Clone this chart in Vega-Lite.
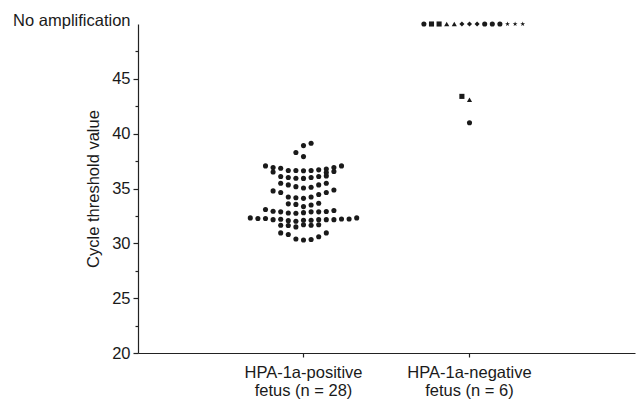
{
  "$schema": "https://vega.github.io/schema/vega-lite/v6.json",
  "width": 497,
  "height": 329,
  "autosize": {"type": "none"},
  "padding": {"left": 138, "top": 24, "right": 1, "bottom": 47},
  "background": "white",
  "config": {
    "view": {"stroke": null},
    "font": "Liberation Sans",
    "axis": {"grid": false, "domainColor": "#222", "tickColor": "#222", "labelColor": "#1a1a1a", "titleColor": "#1a1a1a", "labelFont": "Liberation Sans", "titleFont": "Liberation Sans", "labelFontSize": 16.5, "titleFontSize": 16.5, "titleFontWeight": "normal", "domainWidth": 1.2, "tickWidth": 1.2}
  },
  "data": {
    "values": [
      {"group": "HPA-1a-positive fetus (n = 28)", "fetus": "P", "slot": 1, "ct": 39.13},
      {"group": "HPA-1a-positive fetus (n = 28)", "fetus": "P", "slot": 0, "ct": 38.91},
      {"group": "HPA-1a-positive fetus (n = 28)", "fetus": "P", "slot": -1, "ct": 38.28},
      {"group": "HPA-1a-positive fetus (n = 28)", "fetus": "P", "slot": 0, "ct": 37.91},
      {"group": "HPA-1a-positive fetus (n = 28)", "fetus": "P", "slot": -5, "ct": 37.06},
      {"group": "HPA-1a-positive fetus (n = 28)", "fetus": "P", "slot": -4, "ct": 36.91},
      {"group": "HPA-1a-positive fetus (n = 28)", "fetus": "P", "slot": -3, "ct": 36.85},
      {"group": "HPA-1a-positive fetus (n = 28)", "fetus": "P", "slot": -2, "ct": 36.64},
      {"group": "HPA-1a-positive fetus (n = 28)", "fetus": "P", "slot": -1, "ct": 36.64},
      {"group": "HPA-1a-positive fetus (n = 28)", "fetus": "P", "slot": 0, "ct": 36.62},
      {"group": "HPA-1a-positive fetus (n = 28)", "fetus": "P", "slot": 1, "ct": 36.64},
      {"group": "HPA-1a-positive fetus (n = 28)", "fetus": "P", "slot": 2, "ct": 36.7},
      {"group": "HPA-1a-positive fetus (n = 28)", "fetus": "P", "slot": 3, "ct": 36.78},
      {"group": "HPA-1a-positive fetus (n = 28)", "fetus": "P", "slot": 4, "ct": 36.92},
      {"group": "HPA-1a-positive fetus (n = 28)", "fetus": "P", "slot": 5, "ct": 37.06},
      {"group": "HPA-1a-positive fetus (n = 28)", "fetus": "P", "slot": -4, "ct": 36.5},
      {"group": "HPA-1a-positive fetus (n = 28)", "fetus": "P", "slot": 3, "ct": 36.45},
      {"group": "HPA-1a-positive fetus (n = 28)", "fetus": "P", "slot": 4, "ct": 36.55},
      {"group": "HPA-1a-positive fetus (n = 28)", "fetus": "P", "slot": -3, "ct": 36.09},
      {"group": "HPA-1a-positive fetus (n = 28)", "fetus": "P", "slot": -2, "ct": 36.0},
      {"group": "HPA-1a-positive fetus (n = 28)", "fetus": "P", "slot": -1, "ct": 35.94},
      {"group": "HPA-1a-positive fetus (n = 28)", "fetus": "P", "slot": 0, "ct": 35.92},
      {"group": "HPA-1a-positive fetus (n = 28)", "fetus": "P", "slot": 1, "ct": 36.0},
      {"group": "HPA-1a-positive fetus (n = 28)", "fetus": "P", "slot": 2, "ct": 36.09},
      {"group": "HPA-1a-positive fetus (n = 28)", "fetus": "P", "slot": 3, "ct": 36.15},
      {"group": "HPA-1a-positive fetus (n = 28)", "fetus": "P", "slot": -3, "ct": 35.48},
      {"group": "HPA-1a-positive fetus (n = 28)", "fetus": "P", "slot": -2, "ct": 35.33},
      {"group": "HPA-1a-positive fetus (n = 28)", "fetus": "P", "slot": -1, "ct": 35.17},
      {"group": "HPA-1a-positive fetus (n = 28)", "fetus": "P", "slot": 0, "ct": 35.05},
      {"group": "HPA-1a-positive fetus (n = 28)", "fetus": "P", "slot": 1, "ct": 35.11},
      {"group": "HPA-1a-positive fetus (n = 28)", "fetus": "P", "slot": 2, "ct": 35.33},
      {"group": "HPA-1a-positive fetus (n = 28)", "fetus": "P", "slot": 3, "ct": 35.48},
      {"group": "HPA-1a-positive fetus (n = 28)", "fetus": "P", "slot": -4, "ct": 34.78},
      {"group": "HPA-1a-positive fetus (n = 28)", "fetus": "P", "slot": -3, "ct": 34.63},
      {"group": "HPA-1a-positive fetus (n = 28)", "fetus": "P", "slot": 2, "ct": 34.45},
      {"group": "HPA-1a-positive fetus (n = 28)", "fetus": "P", "slot": 3, "ct": 34.63},
      {"group": "HPA-1a-positive fetus (n = 28)", "fetus": "P", "slot": 4, "ct": 34.87},
      {"group": "HPA-1a-positive fetus (n = 28)", "fetus": "P", "slot": -2, "ct": 34.22},
      {"group": "HPA-1a-positive fetus (n = 28)", "fetus": "P", "slot": -1, "ct": 34.15},
      {"group": "HPA-1a-positive fetus (n = 28)", "fetus": "P", "slot": 0, "ct": 34.1},
      {"group": "HPA-1a-positive fetus (n = 28)", "fetus": "P", "slot": 1, "ct": 34.22},
      {"group": "HPA-1a-positive fetus (n = 28)", "fetus": "P", "slot": -2, "ct": 33.6},
      {"group": "HPA-1a-positive fetus (n = 28)", "fetus": "P", "slot": -1, "ct": 33.55},
      {"group": "HPA-1a-positive fetus (n = 28)", "fetus": "P", "slot": 0, "ct": 33.35},
      {"group": "HPA-1a-positive fetus (n = 28)", "fetus": "P", "slot": 1, "ct": 33.5},
      {"group": "HPA-1a-positive fetus (n = 28)", "fetus": "P", "slot": 2, "ct": 33.65},
      {"group": "HPA-1a-positive fetus (n = 28)", "fetus": "P", "slot": -5, "ct": 33.08},
      {"group": "HPA-1a-positive fetus (n = 28)", "fetus": "P", "slot": -4, "ct": 32.93},
      {"group": "HPA-1a-positive fetus (n = 28)", "fetus": "P", "slot": -3, "ct": 32.87},
      {"group": "HPA-1a-positive fetus (n = 28)", "fetus": "P", "slot": -2, "ct": 32.77},
      {"group": "HPA-1a-positive fetus (n = 28)", "fetus": "P", "slot": -1, "ct": 32.75},
      {"group": "HPA-1a-positive fetus (n = 28)", "fetus": "P", "slot": 0, "ct": 32.8},
      {"group": "HPA-1a-positive fetus (n = 28)", "fetus": "P", "slot": 1, "ct": 32.87},
      {"group": "HPA-1a-positive fetus (n = 28)", "fetus": "P", "slot": 2, "ct": 32.87},
      {"group": "HPA-1a-positive fetus (n = 28)", "fetus": "P", "slot": 3, "ct": 32.9},
      {"group": "HPA-1a-positive fetus (n = 28)", "fetus": "P", "slot": 4, "ct": 33.0},
      {"group": "HPA-1a-positive fetus (n = 28)", "fetus": "P", "slot": -7, "ct": 32.32},
      {"group": "HPA-1a-positive fetus (n = 28)", "fetus": "P", "slot": -6, "ct": 32.26},
      {"group": "HPA-1a-positive fetus (n = 28)", "fetus": "P", "slot": -5, "ct": 32.26},
      {"group": "HPA-1a-positive fetus (n = 28)", "fetus": "P", "slot": -4, "ct": 32.16},
      {"group": "HPA-1a-positive fetus (n = 28)", "fetus": "P", "slot": -3, "ct": 32.2},
      {"group": "HPA-1a-positive fetus (n = 28)", "fetus": "P", "slot": -2, "ct": 32.07},
      {"group": "HPA-1a-positive fetus (n = 28)", "fetus": "P", "slot": -1, "ct": 32.01},
      {"group": "HPA-1a-positive fetus (n = 28)", "fetus": "P", "slot": 0, "ct": 32.1},
      {"group": "HPA-1a-positive fetus (n = 28)", "fetus": "P", "slot": 1, "ct": 32.1},
      {"group": "HPA-1a-positive fetus (n = 28)", "fetus": "P", "slot": 2, "ct": 32.16},
      {"group": "HPA-1a-positive fetus (n = 28)", "fetus": "P", "slot": 3, "ct": 32.16},
      {"group": "HPA-1a-positive fetus (n = 28)", "fetus": "P", "slot": 4, "ct": 32.16},
      {"group": "HPA-1a-positive fetus (n = 28)", "fetus": "P", "slot": 5, "ct": 32.22},
      {"group": "HPA-1a-positive fetus (n = 28)", "fetus": "P", "slot": 6, "ct": 32.22},
      {"group": "HPA-1a-positive fetus (n = 28)", "fetus": "P", "slot": 7, "ct": 32.32},
      {"group": "HPA-1a-positive fetus (n = 28)", "fetus": "P", "slot": -3, "ct": 31.65},
      {"group": "HPA-1a-positive fetus (n = 28)", "fetus": "P", "slot": -2, "ct": 31.62},
      {"group": "HPA-1a-positive fetus (n = 28)", "fetus": "P", "slot": -1, "ct": 31.5},
      {"group": "HPA-1a-positive fetus (n = 28)", "fetus": "P", "slot": 0, "ct": 31.7},
      {"group": "HPA-1a-positive fetus (n = 28)", "fetus": "P", "slot": 1, "ct": 31.65},
      {"group": "HPA-1a-positive fetus (n = 28)", "fetus": "P", "slot": 2, "ct": 31.7},
      {"group": "HPA-1a-positive fetus (n = 28)", "fetus": "P", "slot": -3, "ct": 30.95},
      {"group": "HPA-1a-positive fetus (n = 28)", "fetus": "P", "slot": -2, "ct": 30.8},
      {"group": "HPA-1a-positive fetus (n = 28)", "fetus": "P", "slot": 3, "ct": 30.95},
      {"group": "HPA-1a-positive fetus (n = 28)", "fetus": "P", "slot": -1, "ct": 30.4},
      {"group": "HPA-1a-positive fetus (n = 28)", "fetus": "P", "slot": 0, "ct": 30.3},
      {"group": "HPA-1a-positive fetus (n = 28)", "fetus": "P", "slot": 1, "ct": 30.35},
      {"group": "HPA-1a-positive fetus (n = 28)", "fetus": "P", "slot": 2, "ct": 30.6},
      {"group": "HPA-1a-negative fetus (n = 6)", "fetus": "N1", "slot": -6, "ct": 50},
      {"group": "HPA-1a-negative fetus (n = 6)", "fetus": "N2", "slot": -5, "ct": 50},
      {"group": "HPA-1a-negative fetus (n = 6)", "fetus": "N2", "slot": -4, "ct": 50},
      {"group": "HPA-1a-negative fetus (n = 6)", "fetus": "N3", "slot": -3, "ct": 50},
      {"group": "HPA-1a-negative fetus (n = 6)", "fetus": "N3", "slot": -2, "ct": 50},
      {"group": "HPA-1a-negative fetus (n = 6)", "fetus": "N4", "slot": -1, "ct": 50},
      {"group": "HPA-1a-negative fetus (n = 6)", "fetus": "N4", "slot": 0, "ct": 50},
      {"group": "HPA-1a-negative fetus (n = 6)", "fetus": "N4", "slot": 1, "ct": 50},
      {"group": "HPA-1a-negative fetus (n = 6)", "fetus": "N5", "slot": 2, "ct": 50},
      {"group": "HPA-1a-negative fetus (n = 6)", "fetus": "N5", "slot": 3, "ct": 50},
      {"group": "HPA-1a-negative fetus (n = 6)", "fetus": "N5", "slot": 4, "ct": 50},
      {"group": "HPA-1a-negative fetus (n = 6)", "fetus": "N6", "slot": 5, "ct": 50},
      {"group": "HPA-1a-negative fetus (n = 6)", "fetus": "N6", "slot": 6, "ct": 50},
      {"group": "HPA-1a-negative fetus (n = 6)", "fetus": "N6", "slot": 7, "ct": 50},
      {"group": "HPA-1a-negative fetus (n = 6)", "fetus": "N2", "slot": -1, "ct": 43.4},
      {"group": "HPA-1a-negative fetus (n = 6)", "fetus": "N3", "slot": 0, "ct": 43.1},
      {"group": "HPA-1a-negative fetus (n = 6)", "fetus": "N1", "slot": 0, "ct": 41.0}
    ]
  },
  "mark": {"type": "point", "filled": true, "opacity": 1, "color": "#1a1a1a", "strokeWidth": 0},
  "encoding": {
    "x": {
      "field": "group", "type": "nominal",
      "sort": ["HPA-1a-positive fetus (n = 28)", "HPA-1a-negative fetus (n = 6)"],
      "scale": {"paddingInner": 0, "paddingOuter": 0.497},
      "axis": {
        "title": null, "labelAngle": 0, "labelLimit": 0,
        "labelExpr": "[slice(datum.label, 0, indexof(datum.label, ' fetus')), slice(datum.label, indexof(datum.label, ' fetus') + 1)]",
        "labelLineHeight": 18, "labelPadding": 7, "tickSize": 4, "labelBaseline": "top"
      }
    },
    "xOffset": {"field": "slot", "type": "quantitative", "scale": {"domain": [-10.92, 10.92], "nice": false, "zero": false}},
    "y": {
      "field": "ct", "type": "quantitative",
      "scale": {"domain": [20, 50], "nice": false, "zero": false},
      "axis": {
        "title": "Cycle threshold value",
        "values": [20, 22.5, 25, 27.5, 30, 32.5, 35, 37.5, 40, 42.5, 45, 47.5, 50],
        "labelExpr": "datum.value == 50 ? 'No amplification' : (datum.value % 5 == 0 ? datum.label : '')",
        "tickSize": {"condition": {"test": "datum.value % 5 != 0", "value": 3}, "value": 5},
        "tickOpacity": {"condition": {"test": "datum.value == 50", "value": 0}, "value": 1},
        "labelOffset": {"condition": {"test": "datum.value == 50", "value": -4}, "value": 0},
        "labelPadding": 3, "labelLimit": 0,
        "titleX": -40, "titleY": 164.5, "titleBaseline": "alphabetic", "titleAlign": "center", "titleAngle": -90
      }
    },
    "shape": {
      "field": "fetus", "type": "nominal", "legend": null,
      "scale": {
        "domain": ["P", "N1", "N2", "N3", "N4", "N5", "N6"],
        "range": ["circle", "circle", "square", "triangle-up", "diamond", "circle", "M0,-1L0.235,-0.324L0.951,-0.309L0.38,0.124L0.588,0.809L0,0.4L-0.588,0.809L-0.38,0.124L-0.951,-0.309L-0.235,-0.324Z"]
      }
    },
    "size": {
      "field": "fetus", "type": "nominal", "legend": null,
      "scale": {
        "domain": ["P", "N1", "N2", "N3", "N4", "N5", "N6"],
        "range": [26, 26, 36, 32, 56, 26, 32]
      }
    }
  }
}
